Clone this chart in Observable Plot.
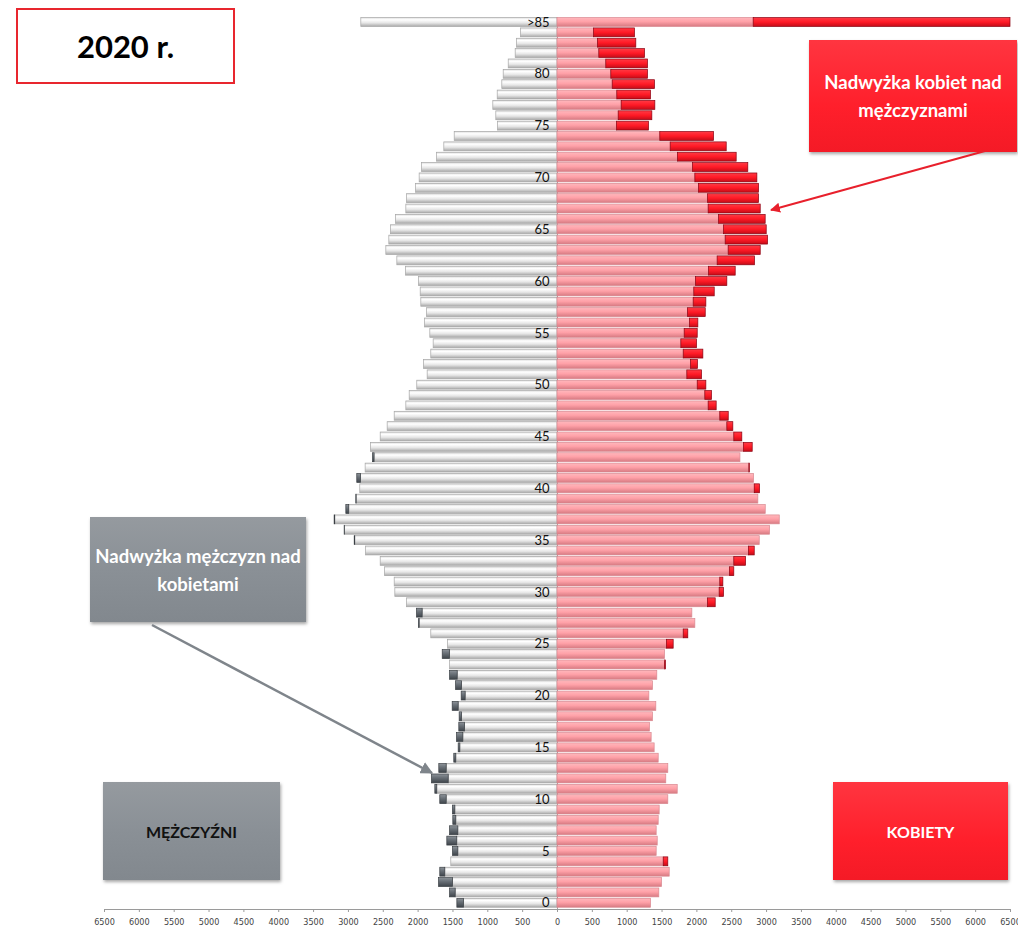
<!DOCTYPE html>
<html>
<head>
<meta charset="utf-8">
<script src="https://cdn.jsdelivr.net/npm/d3@7"></script>
<script src="https://cdn.jsdelivr.net/npm/@observablehq/plot@0.6"></script>
<style>
  html, body { margin: 0; padding: 0; background: #fff; }
  #wrap { position: relative; width: 1018px; height: 928px; font-family: Lato, "Open Sans", sans-serif; }
  #wrap svg.plot { position: absolute; left: 0; top: 0; }
  .box { position: absolute; display: flex; align-items: center; justify-content: center; text-align: center; font-weight: 700; box-sizing: border-box; }
  .redbox { background: linear-gradient(#ff3540, #ff1f2b 60%, #f41a26); color: #fff; box-shadow: 1px 2px 3px rgba(0,0,0,0.35); }
  .greybox { background: linear-gradient(#959a9f, #8a9096 50%, #82888e); color: #fff; box-shadow: 1px 2px 3px rgba(0,0,0,0.35); }
  #overlay { position: absolute; left: 0; top: 0; pointer-events: none; }
  .xax text { font-family: "Liberation Sans Narrow", "DejaVu Sans Condensed", Lato, sans-serif; }
</style>
</head>
<body>
<div id="wrap"></div>
<script>
// Age groups (0 .. 84, then ">85")
const ageLabels = d3.range(0, 85).map(String).concat([">85"]);
// Labelled ages on the central axis
const shownAges = [0, 5, 10, 15, 20, 25, 30, 35, 40, 45, 50, 55, 60, 65, 70, 75, 80, 85];
// Men (thousands), index = age
const men = [
  1437, 1542, 1700, 1682, 1524, 1500, 1581, 1542, 1495, 1500,
  1682, 1753, 1801, 1696, 1481, 1418, 1442, 1409, 1404, 1504,
  1375, 1456, 1542, 1542, 1647, 1571, 1811, 1987, 2016, 2160,
  2327, 2336, 2475, 2537, 2748, 2910, 3054, 3198, 3030, 2887,
  2830, 2873, 2753, 2647, 2676, 2537, 2437, 2336, 2169, 2121,
  2012, 1863, 1916, 1811, 1777, 1825, 1901, 1873, 1954, 1963,
  1987, 2174, 2298, 2456, 2413, 2389, 2318, 2169, 2160, 2030,
  1978, 1944, 1729, 1624, 1475, 854, 878, 921, 858, 792,
  772, 700, 600, 581, 524, 2815
];
// Women (thousands), index = age
const women = [
  1342, 1461, 1500, 1610, 1590, 1423, 1438, 1423, 1452, 1466,
  1590, 1725, 1561, 1590, 1452, 1394, 1351, 1327, 1370, 1418,
  1318, 1370, 1432, 1557, 1543, 1667, 1877, 1978, 1935, 2270,
  2389, 2380, 2537, 2705, 2830, 2902, 3050, 3189, 2988, 2882,
  2906, 2820, 2760, 2625, 2801, 2652, 2523, 2457, 2284, 2217,
  2136, 2074, 2016, 2093, 2002, 2012, 2021, 2127, 2136, 2256,
  2437, 2557, 2834, 2916, 3021, 3002, 2987, 2916, 2892, 2892,
  2868, 2738, 2571, 2428, 2246, 1313, 1361, 1404, 1342, 1399,
  1299, 1299, 1256, 1131, 1112, 6500
];
// X axis ticks
const xTicks = d3.range(-6500, 6501, 500);

const rows = ageLabels.map((label, i) => ({age: i, label, m: men[i], w: women[i]}));
const labelRows = rows.filter(d => shownAges.includes(d.age));
const half = 0.43;

const plot = Plot.plot({
  width: 1018,
  height: 928,
  marginLeft: 104,
  marginRight: 8,
  marginTop: 22,
  marginBottom: 19,
  style: {fontFamily: "Lato, 'Open Sans', sans-serif", background: "transparent"},
  x: {domain: [-6500, 6500]},
  y: {domain: [-0.6, 85], axis: null},
  marks: [
    Plot.ruleX([0], {stroke: "#8c8c8c", strokeWidth: 0.8}),
    // men, common part
    Plot.rect(rows, {x1: d => -Math.min(d.m, d.w), x2: d => 0, y1: d => d.age - half, y2: d => d.age + half,
      fill: "url(#gMen)", stroke: "#a6a6a6", strokeWidth: 0.7}),
    // men surplus
    Plot.rect(rows.filter(d => d.m > d.w), {x1: d => -d.m, x2: d => -d.w, y1: d => d.age - half, y2: d => d.age + half,
      fill: "url(#gMenX)", stroke: "#3a3f44", strokeWidth: 0.7}),
    // women, common part
    Plot.rect(rows, {x1: d => 0, x2: d => Math.min(d.m, d.w), y1: d => d.age - half, y2: d => d.age + half,
      fill: "url(#gWom)", stroke: "#d98890", strokeWidth: 0.7}),
    // women surplus
    Plot.rect(rows.filter(d => d.w > d.m), {x1: d => d.m, x2: d => d.w, y1: d => d.age - half, y2: d => d.age + half,
      fill: "url(#gWomX)", stroke: "#8a0010", strokeWidth: 0.7}),
    // age labels
    Plot.text(labelRows, {x: d => 0, y: "age", text: "label", textAnchor: "end", dx: -8, fontSize: 13, fill: "#111"}),
    Plot.frame({anchor: "bottom", stroke: "#9a9a9a"}),
    Plot.axisX({ticks: xTicks, tickFormat: d => String(Math.abs(d)), tickSize: 3, tickPadding: 6, fontSize: 9,
      stroke: "#9a9a9a", fill: "#444", label: null, className: "xax"})
  ]
});
plot.classList.add("plot");

// gradients for the bevelled bars
const defs = d3.select(plot).insert("defs", ":first-child");
function grad(id, stops) {
  const g = defs.append("linearGradient").attr("id", id).attr("x1", 0).attr("y1", 0).attr("x2", 0).attr("y2", 1);
  stops.forEach(([o, c]) => g.append("stop").attr("offset", o).attr("stop-color", c));
}
grad("gMen", [[0, "#dedede"], [0.25, "#ffffff"], [0.6, "#e6e6e6"], [1, "#a9a9a9"]]);
grad("gMenX", [[0, "#8d9399"], [0.4, "#6a7178"], [1, "#3e444a"]]);
grad("gWom", [[0, "#ffb7bc"], [0.45, "#ffa1a8"], [1, "#d77a82"]]);
grad("gWomX", [[0, "#ff3b45"], [0.5, "#ff1a26"], [1, "#c40c18"]]);

const wrap = document.getElementById("wrap");
wrap.appendChild(plot);

// annotation boxes
function box(cls, left, top, w, h, html, extra) {
  const div = document.createElement("div");
  div.className = "box " + cls;
  Object.assign(div.style, {left: left + "px", top: top + "px", width: w + "px", height: h + "px"}, extra || {});
  div.innerHTML = html;
  wrap.appendChild(div);
}
box("", 16, 8, 219, 76, "2020 r.", {border: "2px solid #e8262e", background: "#fff", color: "#000", fontSize: "31px"});
box("redbox", 809, 40, 208, 112, "Nadwyżka kobiet nad<br>mężczyznami", {fontSize: "18.5px", lineHeight: "28px"});
box("greybox", 90, 517, 216, 105, "Nadwyżka mężczyzn nad<br>kobietami", {fontSize: "18.5px", lineHeight: "28px"});
box("greybox", 103, 782, 177, 98, "MĘŻCZYŹNI", {fontSize: "16px", color: "#111"});
box("redbox", 833, 782, 175, 98, "KOBIETY", {fontSize: "16px"});

// arrows
const ov = d3.select(wrap).append("svg").attr("id", "overlay").attr("width", 1018).attr("height", 928);
const od = ov.append("defs");
[["aRed", "#e8202c"], ["aGrey", "#7f858b"]].forEach(([id, c]) => {
  od.append("marker").attr("id", id).attr("viewBox", "0 0 10 10").attr("refX", 9).attr("refY", 5)
    .attr("markerWidth", 5).attr("markerHeight", 5).attr("orient", "auto")
    .append("path").attr("d", "M0,0L10,5L0,10z").attr("fill", c);
});
ov.append("line").attr("x1", 985).attr("y1", 151).attr("x2", 771).attr("y2", 210)
  .attr("stroke", "#e8202c").attr("stroke-width", 2).attr("marker-end", "url(#aRed)");
ov.append("line").attr("x1", 152).attr("y1", 625).attr("x2", 432).attr("y2", 773)
  .attr("stroke", "#7f858b").attr("stroke-width", 2.5).attr("marker-end", "url(#aGrey)");
</script>
</body>
</html>
